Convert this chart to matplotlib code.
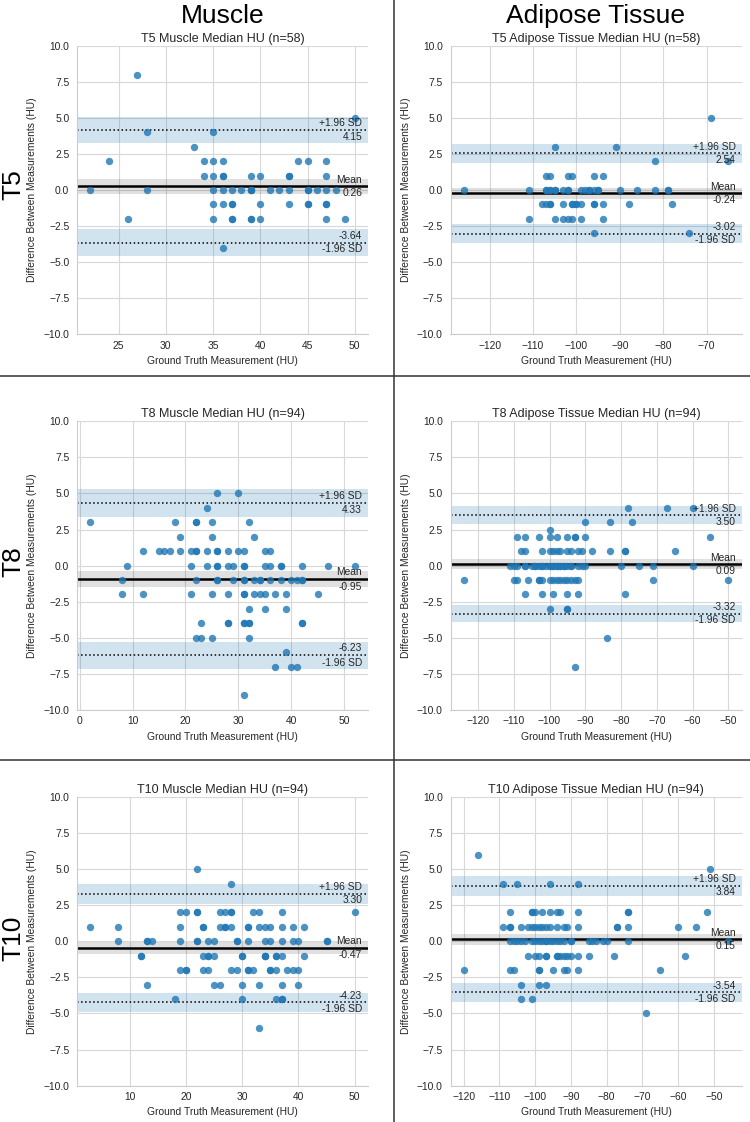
import numpy as np
import matplotlib
matplotlib.use("Agg")
import matplotlib.pyplot as plt
import matplotlib.transforms as mtransforms
from matplotlib.lines import Line2D

plt.rcParams['font.family'] = ['Liberation Sans', 'DejaVu Sans']

# ---------------- data ----------------
col_titles = ["Muscle", "Adipose Tissue"]
row_titles = ["T5", "T8", "T10"]
panel_titles = ["T5 Muscle Median HU (n=58)", "T5 Adipose Tissue Median HU (n=58)",
                "T8 Muscle Median HU (n=94)", "T8 Adipose Tissue Median HU (n=94)",
                "T10 Muscle Median HU (n=94)", "T10 Adipose Tissue Median HU (n=94)"]
n_obs = [58, 58, 94, 94, 94, 94]
mean_diff = [0.26, -0.24, -0.95, 0.09, -0.47, 0.15]
upper_loa = [4.15, 2.54, 4.33, 3.50, 3.30, 3.84]
lower_loa = [-3.64, -3.02, -6.23, -3.32, -4.23, -3.54]

t5_muscle_gt = [22, 24, 26, 27, 28, 28, 33, 35,
                34, 35, 36, 44, 45, 47,
                34, 35, 36, 36, 39, 40, 43, 43, 47,
                35, 36, 37, 38, 39, 39, 41, 42, 43, 45, 45, 46, 47, 48,
                35, 36, 37, 37, 40, 43, 45, 47, 47,
                35, 37, 37, 39, 39, 40, 47, 49,
                36, 50, 39, 45]
t5_muscle_diff = [0, 2, -2, 8, 4, 0, 3, 4,
                  2, 2, 2, 2, 2, 2,
                  1, 1, 1, 1, 1, 1, 1, 1, 1,
                  0, 0, 0, 0, 0, 0, 0, 0, 0, 0, 0, 0, 0, 0,
                  -1, -1, -1, -1, -1, -1, -1, -1, -1,
                  -2, -2, -2, -2, -2, -2, -2, -2,
                  -4, 5, 0, -1]

t5_adipose_gt = [-126, -111, -111, -108, -107, -107, -107, -106, -106, -106,
                 -105, -105, -105, -103, -103, -103, -102, -102, -102, -101,
                 -101, -101, -100, -99, -99, -99, -98, -97, -96, -96,
                 -96, -96, -96, -95, -94, -94, -94, -91, -90, -88,
                 -86, -82, -82, -79, -78, -74, -69, -65,
                 -106, -105, -107, -97, -100, -106, -101, -95, -102, -79]
t5_adipose_diff = [0, 0, -2, -1, 1, 0, -1, 1, 0, -1,
                   3, 0, -2, 0, -1, -2, 1, 0, -2, 1,
                   -1, -2, -1, 0, -1, -2, 0, 0, 1, 0,
                   -1, -1, -3, 0, 1, -1, -2, 3, 0, -1,
                   0, 2, 0, 0, -1, -3, 5, 2,
                   0, 0, 0, 0, -1, -1, -1, 0, 0, 0]

t8_muscle_gt = [2,
                26, 30,
                24,
                18, 22, 22, 25, 32,
                19, 25, 33,
                12, 15, 16, 17, 19, 21, 22, 22, 24, 26, 26, 28, 30, 31, 35, 36,
                9, 21, 24, 26, 26, 28, 29, 31, 31, 35, 36, 38, 38, 42, 47, 52,
                8, 22, 26, 26, 29, 31, 31, 33, 34, 34, 36, 38, 40, 41, 42, 42,
                8, 12, 21, 25, 28, 31, 31, 33, 34, 35, 37, 39, 45,
                32, 35, 39,
                23, 28, 28, 31, 31, 32, 32, 42, 42,
                22, 23, 25, 32,
                39,
                37, 40, 41,
                31]
t8_muscle_diff = [3,
                  5, 5,
                  4,
                  3, 3, 3, 3, 3,
                  2, 2, 2,
                  1, 1, 1, 1, 1, 1, 1, 1, 1, 1, 1, 1, 1, 1, 1, 1,
                  0, 0, 0, 0, 0, 0, 0, 0, 0, 0, 0, 0, 0, 0, 0, 0,
                  -1, -1, -1, -1, -1, -1, -1, -1, -1, -1, -1, -1, -1, -1, -1, -1,
                  -2, -2, -2, -2, -2, -2, -2, -2, -2, -2, -2, -2, -2,
                  -3, -3, -3,
                  -4, -4, -4, -4, -4, -4, -4, -4, -4,
                  -5, -5, -5, -5,
                  -6,
                  -7, -7, -7,
                  -9]

t8_adipose_gt = [-78, -67, -60,
                 -90, -83, -77,
                 -100,
                 -109, -107, -103, -100, -98, -95, -93, -93, -90, -55,
                 -108, -107, -102, -100, -99, -98, -97, -95, -94, -92, -91, -88, -83, -79, -79, -65,
                 -111, -110, -109, -107, -105, -104, -103, -102, -101, -100, -100, -99, -98, -97, -96, -96,
                 -95, -94, -92, -90, -80, -75, -71, -60, -107, -104, -102, -99, -98, -97, -94, -91,
                 -124, -110, -109, -106, -103, -103, -102, -100, -99, -98, -97, -96, -95, -94, -93, -92, -71, -50,
                 -107, -102, -99, -95, -92, -79,
                 -100, -95, -95,
                 -84,
                 -93]
t8_adipose_diff = [4, 4, 4,
                   3, 3, 3,
                   2.5,
                   2, 2, 2, 2, 2, 2, 2, 2, 2, 2,
                   1, 1, 1, 1, 1, 1, 1, 1, 1, 1, 1, 1, 1, 1, 1, 1,
                   0, 0, 0, 0, 0, 0, 0, 0, 0, 0, 0, 0, 0, 0, 0, 0,
                   0, 0, 0, 0, 0, 0, 0, 0, 0, 0, 0, 0, 0, 0, 0, 0,
                   -1, -1, -1, -1, -1, -1, -1, -1, -1, -1, -1, -1, -1, -1, -1, -1, -1, -1,
                   -2, -2, -2, -2, -2, -2,
                   -3, -3, -3,
                   -5,
                   -7]

t10_muscle_gt = [22,
                 28,
                 19, 20, 22, 22, 26, 27, 28, 28, 32, 33, 37, 50,
                 3, 8, 19, 23, 23, 26, 27, 27, 28, 31, 31, 33, 34, 35, 37, 39, 41,
                 8, 13, 13, 14, 19, 22, 22, 24, 25, 29, 29, 31, 34, 35, 37, 39, 40, 45, 45,
                 12, 12, 23, 24, 24, 25, 30, 30, 34, 34, 34, 36, 36, 37, 41,
                 19, 20, 20, 23, 24, 28, 29, 31, 31, 32, 35, 35, 36, 38, 39, 40,
                 13, 25, 26, 30, 33, 37, 40,
                 18, 30, 36, 37, 37,
                 33]
t10_muscle_diff = [5,
                   4,
                   2, 2, 2, 2, 2, 2, 2, 2, 2, 2, 2, 2,
                   1, 1, 1, 1, 1, 1, 1, 1, 1, 1, 1, 1, 1, 1, 1, 1, 1,
                   0, 0, 0, 0, 0, 0, 0, 0, 0, 0, 0, 0, 0, 0, 0, 0, 0, 0, 0,
                   -1, -1, -1, -1, -1, -1, -1, -1, -1, -1, -1, -1, -1, -1, -1,
                   -2, -2, -2, -2, -2, -2, -2, -2, -2, -2, -2, -2, -2, -2, -2, -2,
                   -3, -3, -3, -3, -3, -3, -3,
                   -4, -4, -4, -4, -4,
                   -6]

t10_adipose_gt = [-116,
                  -51,
                  -109, -105, -96, -88,
                  -107, -101, -101, -100, -98, -96, -94, -93, -88, -74, -74, -52,
                  -109, -107, -107, -104, -102, -100, -99, -98, -97, -94, -91, -88, -77, -77, -74, -60, -55,
                  -101, -96, -92,
                  -107, -106, -105, -104, -103, -100, -99, -97, -96, -94, -93, -90, -90, -85, -84, -81, -80, -74,
                  -101, -98, -97, -95, -92, -46, -83,
                  -102, -100, -99, -97, -97, -94, -94, -93, -92, -91, -90, -88, -85, -78, -58,
                  -120, -107, -106, -99, -99, -95, -92, -91, -88, -65,
                  -104, -99, -97,
                  -104, -101,
                  -69]
t10_adipose_diff = [6,
                    5,
                    4, 4, 4, 4,
                    2, 2, 2, 2, 2, 2, 2, 2, 2, 2, 2, 2,
                    1, 1, 1, 1, 1, 1, 1, 1, 1, 1, 1, 1, 1, 1, 1, 1, 1,
                    1, 1, 1,
                    0, 0, 0, 0, 0, 0, 0, 0, 0, 0, 0, 0, 0, 0, 0, 0, 0, 0,
                    0, 0, 0, 0, 0, 0, 0,
                    -1, -1, -1, -1, -1, -1, -1, -1, -1, -1, -1, -1, -1, -1, -1,
                    -2, -2, -2, -2, -2, -2, -2, -2, -2, -2,
                    -3, -3, -3,
                    -4, -4,
                    -5]

panel_gt = [t5_muscle_gt, t5_adipose_gt, t8_muscle_gt, t8_adipose_gt, t10_muscle_gt, t10_adipose_gt]
panel_diff = [t5_muscle_diff, t5_adipose_diff, t8_muscle_diff, t8_adipose_diff, t10_muscle_diff, t10_adipose_diff]


def t975(df):
    z = 1.959964
    return (z + (z**3 + z) / (4 * df)
            + (5 * z**5 + 16 * z**3 + 3 * z) / (96 * df**2))


# ---------------- layout ----------------
W, H = 750, 1122
fig = plt.figure(figsize=(W / 100, H / 100), dpi=100)

lefts_px = [77.0, 450.5]
width_px = 291.0
tops_px = [45.7, 421.3, 797.0]
height_px = 288.6
txt_col = '#262626'
fs_small = 7.4

for i in range(6):
    r, c = divmod(i, 2)
    ax = fig.add_axes([lefts_px[c] / W, 1 - (tops_px[r] + height_px) / H,
                       width_px / W, height_px / H])
    ax.set_axisbelow(True)
    ax.grid(True, color='#d8d8d8', lw=0.8)
    for s in ['top', 'right']:
        ax.spines[s].set_visible(False)
    for s in ['left', 'bottom']:
        ax.spines[s].set_color('#cccccc')
        ax.spines[s].set_linewidth(0.8)
    ax.tick_params(length=0, labelsize=fs_small, colors=txt_col)
    ax.tick_params(axis='y', pad=5.5)
    ax.tick_params(axis='x', pad=4.5)

    m, hi, lo, n = mean_diff[i], upper_loa[i], lower_loa[i], n_obs[i]
    sd = (hi - lo) / (2 * 1.96)
    se = sd / np.sqrt(n)
    t = t975(n - 1)
    ax.axhspan(m - t * se, m + t * se, color='k', alpha=0.12, lw=0)
    loa_half = t * np.sqrt(3) * se
    ax.axhspan(hi - loa_half, hi + loa_half, color='tab:blue', alpha=0.2, lw=0)
    ax.axhspan(lo - loa_half, lo + loa_half, color='tab:blue', alpha=0.2, lw=0)
    ax.axhline(m, color='k', lw=1.8)
    ax.axhline(hi, color='k', ls=':', lw=1.1)
    ax.axhline(lo, color='k', ls=':', lw=1.1)

    ax.scatter(panel_gt[i], panel_diff[i], s=28, color='tab:blue', alpha=0.8, lw=0, zorder=3)

    ax.set_ylim(-10, 10)
    ax.set_yticks(np.arange(-10, 10.01, 2.5))

    trans = mtransforms.blended_transform_factory(ax.transAxes, ax.transData)
    off = (hi - lo) / 100 * 1.5
    kw = dict(ha='right', transform=trans, fontsize=fs_small, color=txt_col, zorder=4)
    ax.text(0.98, m + off, "Mean", va='bottom', **kw)
    ax.text(0.98, m - off, f"{m:.2f}", va='top', **kw)
    ax.text(0.98, hi + off, "+1.96 SD", va='bottom', **kw)
    ax.text(0.98, hi - off, f"{hi:.2f}", va='top', **kw)
    ax.text(0.98, lo + off, f"{lo:.2f}", va='bottom', **kw)
    ax.text(0.98, lo - off, "-1.96 SD", va='top', **kw)

    ax.set_title(panel_titles[i], fontsize=9, pad=3, color=txt_col)
    ax.set_xlabel("Ground Truth Measurement (HU)", fontsize=fs_small, color=txt_col)
    ax.set_ylabel("Difference Between Measurements (HU)", fontsize=fs_small, color=txt_col)
    ax.xaxis.set_label_coords(0.5, -0.075)
    ax.yaxis.set_label_coords(-0.136, 0.5)

# column headers
fig.text(222.5 / W, 1 - 23.3 / H, col_titles[0], fontsize=19, ha='center', va='baseline')
fig.text(596.0 / W, 1 - 23.0 / H, col_titles[1], fontsize=19, ha='center', va='baseline')

# row labels
for lab, yc in zip(row_titles, [185.0, 561.5, 938.0]):
    fig.text(13.7 / W, 1 - yc / H, lab, fontsize=19, rotation=90, ha='center', va='center')

# separators
for yp in [375.5, 759.7]:
    fig.add_artist(Line2D([0, 1], [1 - yp / H] * 2, transform=fig.transFigure,
                          color='#333333', lw=1.1))
fig.add_artist(Line2D([394.3 / W] * 2, [0, 1], transform=fig.transFigure,
                      color='#333333', lw=1.1))

fig.savefig("out.png", dpi=100)
